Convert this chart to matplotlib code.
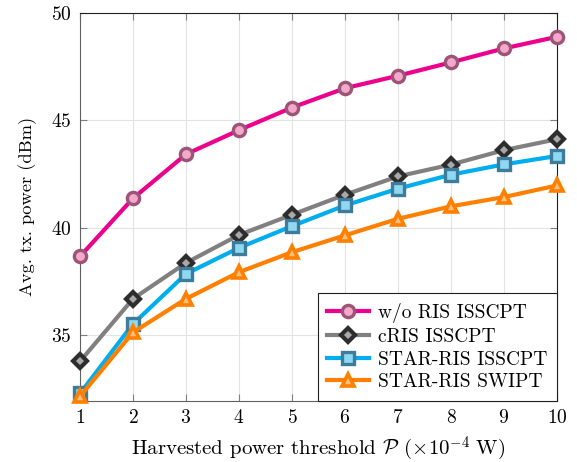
import numpy as np
import matplotlib
matplotlib.use('Agg')
import matplotlib.pyplot as plt

# datos
umbral = [1, 2, 3, 4, 5, 6, 7, 8, 9, 10]
sin_ris = [38.67, 41.37, 43.42, 44.54, 45.59, 46.49, 47.07, 47.69, 48.34, 48.88]
cris = [33.79, 36.70, 38.37, 39.67, 40.61, 41.54, 42.39, 42.94, 43.61, 44.12]
star_isscpt = [32.30, 35.53, 37.86, 39.07, 40.08, 41.04, 41.82, 42.47, 42.95, 43.34]
star_swipt = [32.16, 35.14, 36.70, 37.94, 38.87, 39.65, 40.42, 41.00, 41.43, 41.97]

etiquetas = ['w/o RIS ISSCPT', 'cRIS ISSCPT', 'STAR-RIS ISSCPT', 'STAR-RIS SWIPT']

plt.rcParams['font.family'] = ['cmr10', 'DejaVu Serif']
plt.rcParams['mathtext.fontset'] = 'cm'
plt.rcParams['axes.unicode_minus'] = False
plt.rcParams['axes.formatter.use_mathtext'] = True

fig = plt.figure(figsize=(5.77, 4.62), dpi=100)
ax = fig.add_axes([0.1386, 0.132, 0.8267, 0.8405])

estilo = dict(lw=3.0, clip_on=False, zorder=3)
ax.plot(umbral, sin_ris, color='#EC008C', marker='o', ms=8.8, mew=2.4,
        mfc='#F4A8CC', mec='#9B5577', label=etiquetas[0], **estilo)
ax.plot(umbral, cris, color='#808080', marker='D', ms=6.8, mew=3.0,
        mfc='#A8A8A8', mec='#2D2D2D', label=etiquetas[1], **estilo)
ax.plot(umbral, star_isscpt, color='#00AEEF', marker='s', ms=8.0, mew=2.4,
        mfc='#8FD8F2', mec='#3D7C9B', label=etiquetas[2], **estilo)
ax.plot(umbral, star_swipt, color='#FF8000', marker='^', ms=9.0, mew=2.6,
        mfc='#FFC080', mec='#FF8000', label=etiquetas[3], **estilo)

ax.set_xlim(1, 10)
ax.set_ylim(31.95, 50)
ax.set_xticks(umbral)
ax.set_yticks([35, 40, 45, 50])
ax.grid(True, color='#E3E3E3', lw=0.8)
ax.set_axisbelow(True)

ax.tick_params(direction='in', length=5, width=0.8, color='#808080',
               top=True, right=True, labelsize=14)
ax.tick_params(axis='x', pad=6)
ax.tick_params(axis='y', pad=6)
for lado in ['left', 'bottom']:
    ax.spines[lado].set_color('#606060')
for lado in ['top', 'right']:
    ax.spines[lado].set_color('#202020')

ax.set_xlabel(r'Harvested power threshold $\mathcal{P}$ $(\times 10^{-4}\ \mathrm{W})$',
              fontsize=15, labelpad=5)
ax.set_ylabel('Avg. tx. power (dBm)', fontsize=13.3, labelpad=10)

leg = ax.legend(loc='lower right', fontsize=14, borderaxespad=0, fancybox=False,
                framealpha=1, edgecolor='#202020', handlelength=2.15,
                labelspacing=0.25, borderpad=0.5, handletextpad=0.45)
leg.get_frame().set_linewidth(0.8)

plt.savefig('out.png', dpi=100)
